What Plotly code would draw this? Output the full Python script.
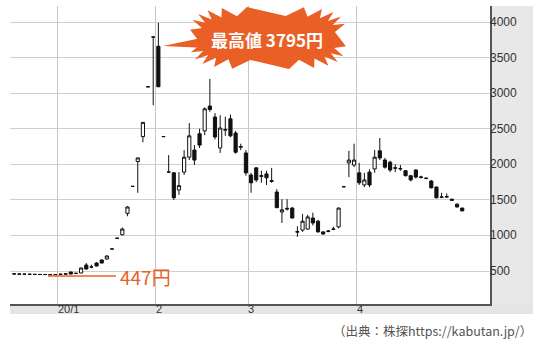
import numpy as np
import plotly.graph_objects as go

# ---------------- data (daily candles, trading days) ----------------
dates = [
    "2019-12-18", "2019-12-19", "2019-12-20", "2019-12-23", "2019-12-24", "2019-12-25",
    "2019-12-26", "2019-12-27", "2019-12-30",
    "2020-01-06", "2020-01-07", "2020-01-08", "2020-01-09", "2020-01-10", "2020-01-14",
    "2020-01-15", "2020-01-16", "2020-01-17", "2020-01-20", "2020-01-21", "2020-01-22",
    "2020-01-23", "2020-01-24", "2020-01-27", "2020-01-28", "2020-01-29", "2020-01-30",
    "2020-01-31",
    "2020-02-03", "2020-02-04", "2020-02-05", "2020-02-06", "2020-02-07", "2020-02-10",
    "2020-02-12", "2020-02-13", "2020-02-14", "2020-02-17", "2020-02-18", "2020-02-19",
    "2020-02-20", "2020-02-21", "2020-02-25", "2020-02-26", "2020-02-27", "2020-02-28",
    "2020-03-02", "2020-03-03", "2020-03-04", "2020-03-05", "2020-03-06", "2020-03-09",
    "2020-03-10", "2020-03-11", "2020-03-12", "2020-03-13", "2020-03-16", "2020-03-17",
    "2020-03-18", "2020-03-19", "2020-03-23", "2020-03-24", "2020-03-25", "2020-03-26",
    "2020-03-27", "2020-03-30", "2020-03-31",
    "2020-04-01", "2020-04-02", "2020-04-03", "2020-04-06", "2020-04-07", "2020-04-08",
    "2020-04-09", "2020-04-10", "2020-04-13", "2020-04-14", "2020-04-15", "2020-04-16",
    "2020-04-17", "2020-04-20", "2020-04-21", "2020-04-22", "2020-04-23", "2020-04-24",
    "2020-04-27", "2020-04-28", "2020-04-30",
]
opens = [460, 458, 456, 455, 453, 452, 451, 450, 449,
         452, 455, 486, 465, 472, 584, 556, 612, 655, 668, 810, 960, 1010, 1310, 1690, 2040, 2390, 3090, 3790,
         3660, 2390, 1890, 1880, 1640, 1890, 2100, 2200, 2430, 2470, 2820, 2665, 2230, 2480, 2640, 2440, 2240, 2160,
         1850, 1950, 1830, 1865, 1760, 1610, 1330, 1370, 1385, 1045, 1075, 1090, 1245, 1200, 1050, 1055, 1085, 1120,
         1685, 2020, 1990,
         1880, 1710, 1890, 1935, 2190, 2060, 2030, 1945, 1935, 1910, 1840, 1920, 1815, 1800, 1765, 1680, 1535, 1540,
         1510, 1440, 1385]
highs = [462, 460, 458, 457, 455, 454, 452, 451, 452,
         458, 462, 490, 470, 548, 612, 590, 625, 660, 720, 810, 960, 1110, 1410, 1690, 2090, 2590, 3090, 3790,
         3990, 2390, 2130, 1890, 1890, 2200, 2580, 2270, 2500, 2800, 3200, 2720, 2690, 2670, 2700, 2470, 2290, 2200,
         1880, 1960, 1910, 1910, 1950, 1650, 1510, 1510, 1400, 1130, 1300, 1290, 1320, 1220, 1060, 1075, 1120, 1390,
         1685, 2190, 2290,
         2020, 1880, 1930, 2200, 2370, 2090, 2050, 2000, 1990, 1920, 1850, 1930, 1840, 1815, 1780, 1690, 1600, 1590,
         1515, 1450, 1390]
lows = [455, 455, 452, 451, 450, 449, 448, 447, 447,
        450, 453, 455, 460, 470, 520, 540, 565, 605, 660, 810, 960, 1000, 1270, 1690, 1600, 2310, 3090, 2830,
        3090, 2390, 1890, 1500, 1570, 1850, 2060, 1990, 2230, 2410, 2740, 2350, 2160, 2400, 2380, 2150, 2200, 1840,
        1600, 1750, 1740, 1710, 1740, 1385, 1175, 1350, 1240, 980, 1050, 1080, 1140, 1040, 1010, 1045, 1075, 1100,
        1685, 1820, 1960,
        1710, 1680, 1680, 1880, 2060, 1940, 1890, 1890, 1910, 1830, 1760, 1800, 1800, 1790, 1660, 1520, 1525, 1530,
        1490, 1395, 1340]
closes = [458, 456, 455, 453, 452, 451, 450, 449, 450,
          455, 460, 458, 468, 542, 528, 556, 570, 612, 711, 810, 960, 1090, 1400, 1690, 2090, 2590, 3090, 3790,
          3090, 2390, 1890, 1530, 1700, 2100, 2400, 2060, 2270, 2780, 2770, 2385, 2510, 2490, 2400, 2170, 2250, 1880,
          1740, 1780, 1840, 1810, 1770, 1390, 1360, 1380, 1245, 1055, 1200, 1260, 1175, 1050, 1020, 1062, 1090, 1385,
          1685, 2060, 2060,
          1740, 1780, 1710, 2100, 2090, 1960, 1920, 1950, 1940, 1840, 1780, 1820, 1822, 1805, 1670, 1530, 1540, 1545,
          1495, 1400, 1345]

y_ticks = [500, 1000, 1500, 2000, 2500, 3000, 3500, 4000]
peak_label = "最高値 3795円"
low_label = "447円"
source_label = "（出典：株探https://kabutan.jp/）"

# ---------------- derived ----------------
idx = np.arange(len(dates))
month_start = [i for i in range(1, len(dates)) if dates[i][5:7] != dates[i - 1][5:7]]
tick_pos = [i - 0.5 for i in month_start]
tick_txt = []
for i in month_start:
    y, m = dates[i][2:4], int(dates[i][5:7])
    tick_txt.append(f"{y}/{m}" if m == 1 else str(m))

ORANGE = "#e95f26"
W, H = 540, 344
L, R, T, B = 10, 490, 6, 304


def px(x):
    return (x - L) / (R - L)


def py(y):
    return (B - y) / (B - T)


fig = go.Figure()
fig.add_trace(go.Candlestick(
    x=idx, open=opens, high=highs, low=lows, close=closes,
    increasing=dict(line=dict(color="#111111", width=1), fillcolor="#ffffff"),
    decreasing=dict(line=dict(color="#111111", width=1), fillcolor="#111111"),
    whiskerwidth=0, hoverinfo="skip",
))

# starburst (superellipse star) around the peak label
cx, cy = 268, 38
n_sp = 22
pts = []
for k in range(2 * n_sp):
    t = np.pi * k / n_sp + 0.07
    outer = k % 2 == 0
    a, b = (78, 31) if outer else (67, 22)
    c, s = np.cos(t), np.sin(t)
    xx = cx + a * np.sign(c) * abs(c) ** 0.5
    yy = cy + b * np.sign(s) * abs(s) ** 0.5
    pts.append((xx, yy))
burst = "M " + " L ".join(f"{px(x):.4f},{py(y):.4f}" for x, y in pts) + " Z"
wedge = (f"M {px(206):.4f},{py(37):.4f} L {px(206):.4f},{py(48):.4f} "
         f"L {px(163):.4f},{py(46):.4f} Z")

shapes = [
    dict(type="rect", xref="paper", yref="paper", x0=1.0, x1=px(533), y0=0, y1=1,
         fillcolor="#e8e8e8", line_width=0, layer="below"),
    dict(type="rect", xref="paper", yref="paper", x0=0, x1=px(533), y0=py(314), y1=0,
         fillcolor="#e4e4e4", line_width=0, layer="below"),
    dict(type="path", xref="paper", yref="paper", path=wedge, fillcolor=ORANGE, line_width=0),
    dict(type="path", xref="paper", yref="paper", path=burst, fillcolor=ORANGE, line_width=0),
    dict(type="line", xref="paper", yref="paper", x0=px(48), x1=px(116), y0=py(276), y1=py(276),
         line=dict(color=ORANGE, width=1.5)),
]

annotations = [
    dict(xref="paper", yref="paper", x=px(267), y=py(39), text=peak_label, showarrow=False,
         xanchor="center", yanchor="middle",
         font=dict(family="Noto Sans CJK JP", size=17, color="white", weight="bold")),
    dict(xref="paper", yref="paper", x=px(145), y=py(276), text=low_label, showarrow=False,
         xanchor="center", yanchor="middle",
         font=dict(family="Noto Sans CJK JP", size=19, color=ORANGE)),
    dict(xref="paper", yref="paper", x=px(534), y=py(330), text=source_label, showarrow=False,
         xanchor="right", yanchor="middle",
         font=dict(family="Noto Sans CJK JP", size=12.5, color="#555555")),
]
# axis labels placed like the original (left-aligned after month gridline, inside grey bands)
for pos, txt in zip(tick_pos, tick_txt):
    annotations.append(dict(xref="x", yref="paper", x=pos, y=py(309), text=txt, showarrow=False,
                            xanchor="left", yanchor="middle", xshift=-2,
                            font=dict(family="Liberation Sans", size=11, color="#333333")))
for v in y_ticks:
    annotations.append(dict(xref="paper", yref="y", x=px(490), y=v, text=str(v), showarrow=False,
                            xanchor="left", yanchor="middle", xshift=-2,
                            font=dict(family="Liberation Sans", size=12, color="#333333")))

fig.update_layout(
    width=W, height=H,
    margin=dict(l=L, r=W - R, t=T, b=H - B),
    paper_bgcolor="white", plot_bgcolor="white",
    showlegend=False, boxgap=0.12,
    shapes=shapes, annotations=annotations,
    xaxis=dict(
        range=[-0.81, 92.4], tickmode="array", tickvals=tick_pos, showticklabels=False,
        showgrid=True, gridcolor="#c3c6ce", gridwidth=1, zeroline=False,
        showline=True, linecolor="#555555", linewidth=1.5, ticks="",
        rangeslider=dict(visible=False), fixedrange=True,
    ),
    yaxis=dict(
        side="right", range=[36, 4226], tickmode="array", tickvals=y_ticks, showticklabels=False,
        showgrid=True, gridcolor="#cfcfcf", gridwidth=1, zeroline=False,
        showline=True, linecolor="#555555", linewidth=1.5, ticks="",
        fixedrange=True,
    ),
)

fig.write_html("out.html")
